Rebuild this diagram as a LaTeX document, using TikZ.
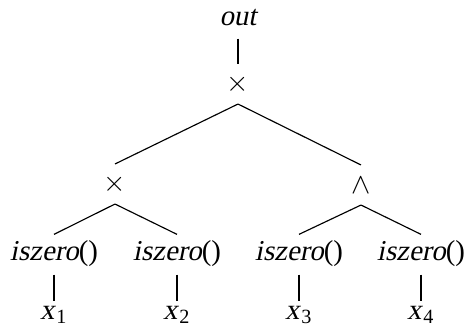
\documentclass[tikz,border=0pt]{standalone}
\usepackage{fontspec}
\setmainfont{Liberation Serif}[ItalicFont=Liberation Serif, ItalicFeatures={FakeSlant=0.2}]
\usepackage{tikz}

\begin{document}
\begin{tikzpicture}[
    x=0.347pt, y=-0.347pt,
    op/.style = {inner sep=0pt, minimum height=13.5pt},
    term/.style = {anchor=base, inner sep=0pt, text height=8.7pt, text depth=4.9pt},
    edge/.style = {line width=0.4pt, black}
]
\useasboundingbox (0,0) rectangle (466,331);

% Root
\node [term, text depth=4.5pt] (out) at (238,25) {\textit{out}};
\node [op] (m0) at (238,84) {$\times$};

% Operators
\node [op] (m1) at (115,184) {$\times$};
\node [op] (a1) at (361,185) {$\wedge$};

% iszero row
\node [term] (z1) at (54,260) {\textit{iszero}()};
\node [term] (z2) at (177,260) {\textit{iszero}()};
\node [term] (z3) at (299,260) {\textit{iszero}()};
\node [term] (z4) at (421,260) {\textit{iszero}()};

% Inputs
\node [term, text height=6.2pt] (x1) at (54,319) {\textit{x}\kern0.7pt\textsubscript{1}};
\node [term, text height=6.2pt] (x2) at (177,319) {\textit{x}\kern0.7pt\textsubscript{2}};
\node [term, text height=6.2pt] (x3) at (299,319) {\textit{x}\kern0.7pt\textsubscript{3}};
\node [term, text height=6.2pt] (x4) at (421,319) {\textit{x}\kern0.7pt\textsubscript{4}};

% Edges
\draw [edge] (out.south) -- (m0.north);
\draw [edge] (m0.south) -- (m1.north);
\draw [edge] (m0.south) -- (a1.north);
\draw [edge] (m1.south) -- (z1.north);
\draw [edge] (m1.south) -- (z2.north);
\draw [edge] (a1.south) -- (z3.north);
\draw [edge] (a1.south) -- (z4.north);
\draw [edge] (z1.south) -- (x1.north);
\draw [edge] (z2.south) -- (x2.north);
\draw [edge] (z3.south) -- (x3.north);
\draw [edge] (z4.south) -- (x4.north);

\end{tikzpicture}
\end{document}
